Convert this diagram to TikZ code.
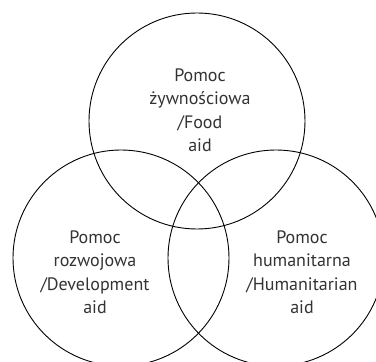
\documentclass[tikz,border=0pt]{standalone}
\usepackage{fontspec}
\setmainfont{PT Sans}
\definecolor{textgrey}{HTML}{333333}
\tikzset{
  aidset/.style={circle, draw=black, line width=0.9pt, minimum size=216pt, inner sep=0pt},
  aidtext/.style={align=center, text=textgrey, font=\fontsize{18}{23.5}\selectfont}
}
\begin{document}
\begin{tikzpicture}[x=1pt,y=1pt]
			\useasboundingbox (0,0) rectangle (376,362);
			\clip (0,0) rectangle (376,362);
			\node [aidset] (food) at (197,241) {};
			\node [aidset] (development) at (121,104) {};
			\node [aidset] (humanitarian) at (276,104) {};
			\node [aidtext] (foodtext) at (200,252) {Pomoc\\żywnościowa\\/Food\\aid};
			\node [aidtext] (developmenttext) at (95,90) {Pomoc\\rozwojowa\\/Development\\aid};
			\node [aidtext] (humanitariantext) at (302,90) {Pomoc\\humanitarna\\/Humanitarian\\aid};
		\end{tikzpicture}
\end{document}
